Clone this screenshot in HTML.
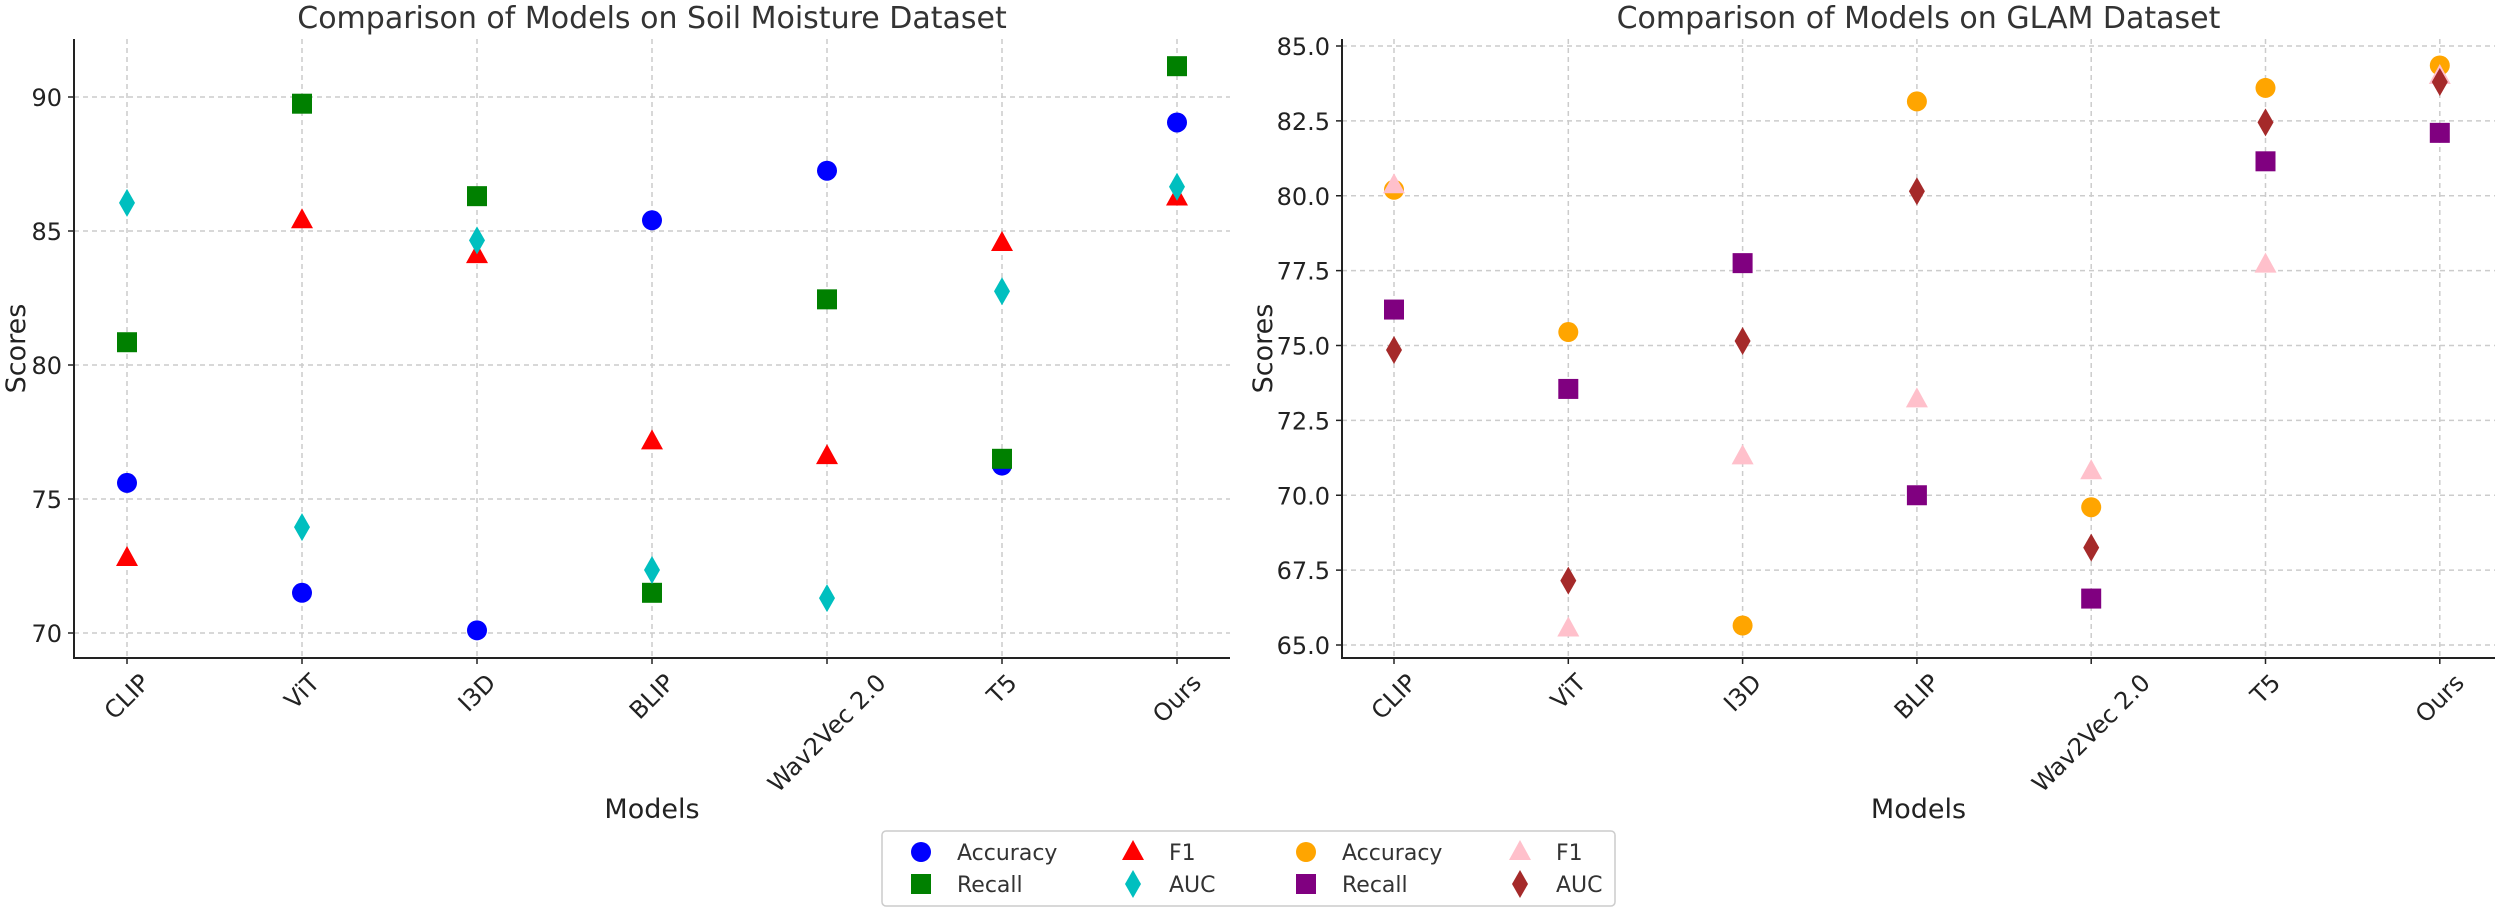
<!DOCTYPE html>
<html><head><meta charset="utf-8">
<style>
html,body{margin:0;padding:0;background:#fff;}
svg{display:block;font-family:"DejaVu Sans","Liberation Sans",sans-serif;}
</style></head>
<body>
<svg id="chart" width="2500" height="914" viewBox="0 0 2500 914" xmlns="http://www.w3.org/2000/svg"></svg>
<script>
const categories = ["CLIP","ViT","I3D","BLIP","Wav2Vec 2.0","T5","Ours"];
// Soil Moisture dataset
const soilAccuracy = [75.6, 71.5, 70.1, 85.4, 87.25, 76.25, 89.05];
const soilRecall   = [80.85, 89.75, 86.3, 71.5, 82.45, 76.5, 91.15];
const soilF1       = [72.8, 85.4, 84.1, 77.15, 76.6, 84.55, 86.25];
const soilAUC      = [86.05, 73.95, 84.65, 72.35, 71.3, 82.75, 86.65];
const soilTicks    = [70, 75, 80, 85, 90];
// GLAM dataset
const glamAccuracy = [80.2, 75.45, 65.65, 83.15, 69.6, 83.6, 84.35];
const glamRecall   = [76.2, 73.55, 77.75, 70.0, 66.55, 81.15, 82.1];
const glamF1       = [80.35, 65.55, 71.3, 73.2, 70.8, 77.7, 84.0];
const glamAUC      = [74.85, 67.15, 75.15, 80.15, 68.25, 82.45, 83.8];
const glamTicks    = [65.0, 67.5, 70.0, 72.5, 75.0, 77.5, 80.0, 82.5, 85.0];

const NS = "http://www.w3.org/2000/svg";
const svg = document.getElementById("chart");
function mk(tag, attrs, parent){
  const e = document.createElementNS(NS, tag);
  for (const k in attrs) e.setAttribute(k, attrs[k]);
  (parent||svg).appendChild(e);
  return e;
}

function marker(g, shape, cx, cy, color){
  let e;
  if (shape === "circle") {
    e = mk("circle", {cx:cx, cy:cy, r:10, fill:color}, g);
  } else if (shape === "square") {
    e = mk("rect", {x:cx-10, y:cy-10, width:20, height:20, fill:color}, g);
  } else if (shape === "triangle") {
    e = mk("polygon", {points:`${cx},${cy-12} ${cx-11},${cy+8} ${cx+11},${cy+8}`, fill:color}, g);
  } else {
    e = mk("polygon", {points:`${cx},${cy-14} ${cx-8},${cy} ${cx},${cy+14} ${cx+8},${cy}`, fill:color}, g);
  }
  return e;
}

function panel(cfg){
  const g = mk("g", {});
  
  
  const x0 = cfg.left, x1 = cfg.right, yT = cfg.top, yB = cfg.bottom;
  const xPos = i => cfg.firstX + i * cfg.stepX;
  const yPos = v => cfg.refY + (cfg.refV - v) * cfg.pxPerUnit;
  // grid
  categories.forEach((c,i)=>{
    const l = mk("line",{x1:xPos(i),x2:xPos(i),y1:yT,y2:yB,stroke:"#cccccc","stroke-width":1.5,"stroke-dasharray":"5,4"},g);
    
    
  });
  cfg.ticks.forEach(t=>{
    const y = yPos(t);
    const l = mk("line",{x1:x0,x2:x1,y1:y,y2:y,stroke:"#cccccc","stroke-width":1.5,"stroke-dasharray":"5,4"},g);
    
    
    const tk = mk("line",{x1:x0-6,x2:x0,y1:y,y2:y,stroke:"#222","stroke-width":1.5},g);
    
    
    const tx = mk("text",{x:x0-12,y:y+9,"text-anchor":"end","font-size":24,fill:"#222"},g);
    tx.textContent = cfg.decimals ? t.toFixed(1) : String(t);
    
    
  });
  // series
  cfg.series.forEach(s=>{
    const sg = mk("g",{},g);
    
    
    s.values.forEach((v,i)=>{
      const m = marker(sg, s.shape, xPos(i), yPos(v), s.color);
      
      
    });
  });
  // axes
  const ax = mk("polyline",{points:`${x0},${yT} ${x0},${yB} ${x1},${yB}`,fill:"none",stroke:"#222","stroke-width":2},g);
  
  
  categories.forEach((c,i)=>{
    const x = xPos(i);
    const tk = mk("line",{x1:x,x2:x,y1:yB,y2:yB+6,stroke:"#222","stroke-width":1.5},g);
    
    
    const tx = mk("text",{"text-anchor":"middle","font-size":24,fill:"#222"},g);
    tx.textContent = c;
    
    
    const w = tx.getComputedTextLength();
    const h = 24;
    const half = (w*0.7071 + h*0.7071)/2;
    const cy = yB + 12 + half;
    tx.setAttribute("transform",`translate(${x},${cy}) rotate(-45)`);
    tx.setAttribute("y", 8);
  });
  const title = mk("text",{x:(x0+x1)/2,y:28,"text-anchor":"middle","font-size":30,fill:"#333"},g);
  title.textContent = cfg.title;
  
  
  const xl = mk("text",{x:(x0+x1)/2,y:818,"text-anchor":"middle","font-size":27,fill:"#222"},g);
  xl.textContent = "Models";
  
  
  const yl = mk("text",{"text-anchor":"middle","font-size":27,fill:"#222",transform:`translate(${cfg.ylabelX},${(yT+yB)/2}) rotate(-90)`},g);
  yl.textContent = "Scores";
  
  
}

panel({name:"soil-moisture-panel", title:"Comparison of Models on Soil Moisture Dataset",
  left:74, right:1230, top:39, bottom:658, firstX:127, stepX:175,
  refV:70, refY:633, pxPerUnit:26.8, ticks:soilTicks, decimals:false, ylabelX:25,
  series:[
    {name:"soil-accuracy", shape:"circle", color:"#0000ff", values:soilAccuracy},
    {name:"soil-recall", shape:"square", color:"#008000", values:soilRecall},
    {name:"soil-f1", shape:"triangle", color:"#ff0000", values:soilF1},
    {name:"soil-auc", shape:"diamond", color:"#00bfbf", values:soilAUC}
  ]});
panel({name:"glam-panel", title:"Comparison of Models on GLAM Dataset",
  left:1342, right:2495, top:39, bottom:658, firstX:1394, stepX:174.3,
  refV:65, refY:645, pxPerUnit:29.95, ticks:glamTicks, decimals:true, ylabelX:1272,
  series:[
    {name:"glam-accuracy", shape:"circle", color:"#ffa500", values:glamAccuracy},
    {name:"glam-recall", shape:"square", color:"#800080", values:glamRecall},
    {name:"glam-f1", shape:"triangle", color:"#ffc0cb", values:glamF1},
    {name:"glam-auc", shape:"diamond", color:"#a52a2a", values:glamAUC}
  ]});

// legend
const lg = mk("g",{});


const box = mk("rect",{x:882,y:831,width:733,height:75,rx:4,fill:"#fff",stroke:"#cccccc","stroke-width":1.5},lg);


const legendLabels = ["Accuracy","Recall","F1","AUC","Accuracy","Recall","F1","AUC"];
const legendShapes = ["circle","square","triangle","diamond","circle","square","triangle","diamond"];
const legendColors = ["#0000ff","#008000","#ff0000","#00bfbf","#ffa500","#800080","#ffc0cb","#a52a2a"];
const colMarkerX = [921,1133,1306,1520];
const rowY = [852,884];
legendLabels.forEach((lab,i)=>{
  const col = Math.floor(i/2), row = i%2;
  const eg = mk("g",{},lg);
  
  
  marker(eg, legendShapes[i], colMarkerX[col], rowY[row], legendColors[i]);
  const t = mk("text",{x:colMarkerX[col]+36,y:rowY[row]+8,"font-size":22,fill:"#333"},eg);
  t.textContent = lab;
  
  
});
</script>
</body></html>
